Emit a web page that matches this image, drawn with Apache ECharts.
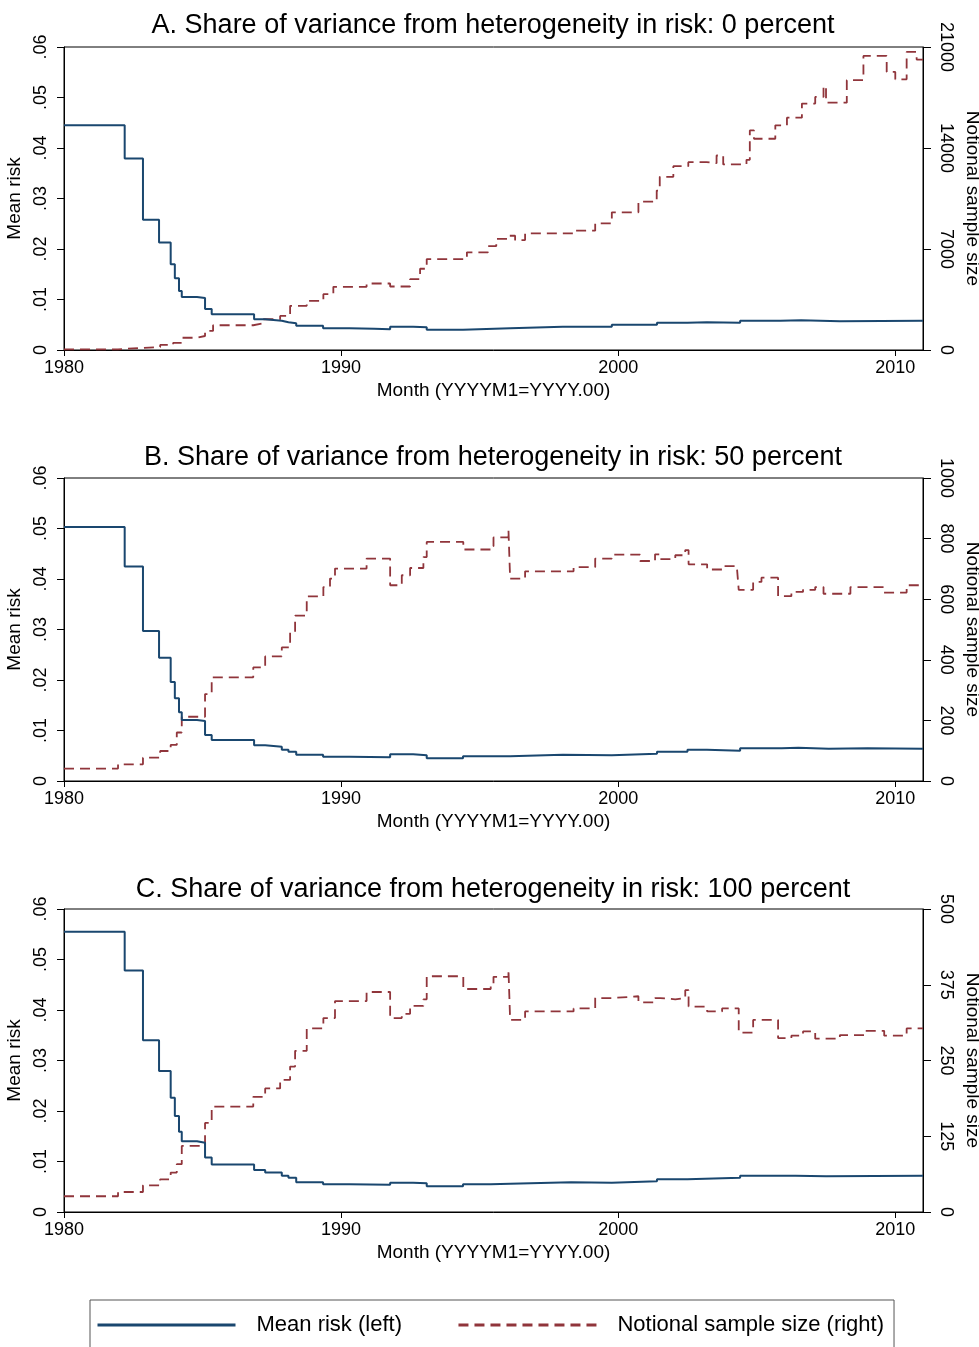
<!DOCTYPE html>
<html>
<head>
<meta charset="utf-8">
<script src="https://cdn.jsdelivr.net/npm/echarts@6/dist/echarts.min.js"></script>
<style>
html,body{margin:0;padding:0;background:#fff;overflow:hidden;}
#chart{width:979px;height:1347px;}
</style>
</head>
<body>
<div id="chart"></div>
<script>
// ---------- data ----------
const panelTitles = [
  'A. Share of variance from heterogeneity in risk: 0 percent',
  'B. Share of variance from heterogeneity in risk: 50 percent',
  'C. Share of variance from heterogeneity in risk: 100 percent'
];
const xTickValues = [1980, 1990, 2000, 2010];
const leftTickLabels = ['0', '.01', '.02', '.03', '.04', '.05', '.06'];
const rightAxisMax = [21000, 1000, 500];
const rightAxisStep = [7000, 200, 125];
const seriesNames = ['Mean risk (left)', 'Notional sample size (right)'];

const aRisk = [[1980,0.0445],[1982.19,0.0379],[1982.85,0.0258],[1983.43,0.0213],[1983.85,0.0170],[1984.0,0.0142],[1984.15,0.0117],[1984.25,0.0105],[1984.8,0.0103],[1985.09,0.0081],[1985.33,0.0071],[1986.86,0.0061],[1987.26,0.0058],[1987.86,0.0055],[1988.1,0.0053],[1988.38,0.0048],[1989.35,0.0043],[1990.3,0.0042],[1991.2,0.0041],[1991.77,0.0046],[1992.6,0.0045],[1993.09,0.0040],[1994.4,0.0043],[1996.1,0.0046],[1998.0,0.0046],[1999.77,0.0050],[2001.4,0.0054],[2002.5,0.0055],[2003.2,0.0054],[2004.4,0.0058],[2005.85,0.0059],[2006.6,0.0057],[2008.0,0.0058],[2011,0.0057]];
const aSize = [[1980,50],[1981.95,150],[1982.85,200],[1983.47,350],[1983.94,500],[1984.25,850],[1984.79,970],[1985.09,1320],[1985.38,1715],[1986.83,1850],[1987.2,2130],[1987.8,2360],[1988.16,3060],[1988.76,3400],[1989.36,3870],[1989.72,4380],[1990.92,4610],[1991.77,4400],[1992.49,4910],[1992.85,5630],[1993.09,6300],[1994.54,6770],[1995.3,7200],[1995.6,7700],[1996.04,7920],[1996.28,7620],[1996.64,8080],[1998.39,8270],[1999.17,8780],[1999.77,9540],[2000.73,10280],[2001.39,11050],[2001.5,12000],[2001.99,12740],[2002.53,13020],[2003.19,12950],[2003.55,13480],[2003.79,12860],[2004.63,13180],[2004.75,15220],[2004.9,14640],[2005.67,15570],[2006.09,16100],[2006.63,17080],[2007.11,17540],[2007.41,18280],[2007.5,17140],[2008.25,18700],[2008.85,20380],[2009.69,19270],[2010.0,18760],[2010.41,20660],[2010.77,20130],[2011,20130]];

const bRisk = [[1980,0.0503],[1982.19,0.0425],[1982.85,0.0297],[1983.43,0.0244],[1983.85,0.0196],[1984.0,0.0164],[1984.15,0.0136],[1984.25,0.0121],[1984.8,0.0119],[1985.09,0.0091],[1985.33,0.0081],[1986.86,0.0071],[1987.26,0.0068],[1987.86,0.0062],[1988.1,0.0058],[1988.38,0.0052],[1989.35,0.0048],[1990.3,0.0047],[1991.77,0.0053],[1992.6,0.0051],[1993.09,0.0045],[1994.4,0.0049],[1996.1,0.0052],[1998.0,0.0051],[1999.77,0.0054],[2001.4,0.0058],[2002.5,0.0062],[2003.2,0.0060],[2004.4,0.0065],[2005.9,0.0066],[2006.5,0.0064],[2007.6,0.0065],[2009.0,0.0064],[2011,0.0064]];
const bSize = [[1980,41],[1981.95,55],[1982.85,77],[1983.47,99],[1983.85,119],[1984.07,160],[1984.25,212],[1985.09,287],[1985.33,342],[1986.83,375],[1987.26,411],[1987.86,441],[1988.16,491],[1988.34,546],[1988.76,609],[1989.36,640],[1989.6,668],[1989.78,701],[1990.92,734],[1991.77,646],[1992.19,679],[1992.49,703],[1992.97,739],[1993.09,789],[1994.41,764],[1995.4,775],[1995.5,804],[1996.04,828],[1996.1,668],[1996.64,692],[1998.39,706],[1999.17,734],[1999.77,747],[2000.79,726],[2001.33,748],[2001.52,732],[2002.06,745],[2002.42,762],[2002.54,715],[2003.21,698],[2003.75,709],[2004.29,698],[2004.35,631],[2004.87,657],[2005.17,671],[2005.77,610],[2006.25,624],[2006.67,631],[2007.11,640],[2007.41,618],[2008.38,640],[2009.56,622],[2010.41,646],[2011,646]];

const cRisk = [[1980,0.0555],[1982.19,0.0478],[1982.85,0.0340],[1983.43,0.0279],[1983.85,0.0226],[1984.0,0.0190],[1984.15,0.0159],[1984.25,0.0140],[1984.8,0.0137],[1985.09,0.0108],[1985.33,0.0094],[1986.86,0.0083],[1987.26,0.0078],[1987.86,0.0072],[1988.1,0.0068],[1988.38,0.0059],[1989.35,0.0055],[1990.3,0.0054],[1991.77,0.0058],[1992.6,0.0057],[1993.09,0.0051],[1994.4,0.0055],[1995.4,0.0056],[1996.1,0.0059],[1998.3,0.0058],[1999.77,0.0061],[2001.4,0.0065],[2002.5,0.0068],[2004.4,0.0072],[2006.4,0.0071],[2007.5,0.0072],[2011,0.0072]];
const cSize = [[1980,26],[1981.95,33],[1982.85,44],[1983.47,54],[1983.85,65],[1984.07,79],[1984.25,109],[1985.09,147],[1985.33,174],[1986.83,190],[1987.26,204],[1987.8,218],[1988.16,240],[1988.34,266],[1988.76,303],[1989.36,320],[1989.78,348],[1990.92,363],[1991.77,320],[1992.19,327],[1992.49,340],[1992.97,351],[1993.09,389],[1994.41,368],[1995.4,375],[1995.5,388],[1996.04,400],[1996.1,317],[1996.64,331],[1998.39,336],[1999.17,353],[1999.77,356],[2000.73,346],[2001.33,353],[2001.52,351],[2002.06,353],[2002.42,366],[2002.54,339],[2003.21,331],[2003.75,336],[2004.35,296],[2004.87,317],[2005.77,287],[2006.25,291],[2006.67,298],[2007.11,286],[2008.0,292],[2008.9,299],[2009.6,291],[2010.41,303],[2011,303]];

const riskData = [aRisk, bRisk, cRisk];
const sizeData = [aSize, bSize, cSize];

// ---------- chart ----------
const FONT = "'Liberation Sans', Arial, sans-serif";
const BLUE = '#1a476f';
const RED = '#90353b';
const gridTops = [47, 478, 909];
const gridH = 303;
const titleTops = [11, 443, 875];

const chart = echarts.init(document.getElementById('chart'), null, {renderer: 'canvas'});

const grids = [], xAxes = [], yAxes = [], series = [], titles = [];
for (let i = 0; i < 3; i++) {
  grids.push({left: 64, right: 56, top: gridTops[i], height: gridH, show: true,
    borderColor: '#000', borderWidth: 1, backgroundColor: '#fff',
    containLabel: false, outerBoundsMode: 'none'});
  titles.push({text: panelTitles[i], left: 493, textAlign: 'center', top: titleTops[i], padding: 0,
    textStyle: {fontFamily: FONT, fontSize: 27, fontWeight: 'normal', color: '#000', lineHeight: 29}});
  xAxes.push({type: 'value', gridIndex: i, min: 1980, max: 2011,
    name: 'Month (YYYYM1=YYYY.00)', nameLocation: 'middle', nameGap: 31,
    nameTextStyle: {fontFamily: FONT, fontSize: 19, color: '#000'},
    axisLine: {show: true, lineStyle: {color: '#000', width: 1}},
    axisTick: {show: true, length: 6, customValues: xTickValues, lineStyle: {color: '#000'}},
    axisLabel: {customValues: xTickValues, margin: 9, fontFamily: FONT, fontSize: 18, color: '#000',
      formatter: v => String(v)},
    splitLine: {show: false}});
  yAxes.push({type: 'value', gridIndex: i, position: 'left', min: 0, max: 0.06, interval: 0.01,
    name: 'Mean risk', nameLocation: 'middle', nameGap: 38,
    nameTextStyle: {fontFamily: FONT, fontSize: 19, color: '#000'},
    axisLine: {show: true, lineStyle: {color: '#000', width: 1}},
    axisTick: {show: true, length: 7, lineStyle: {color: '#000'}},
    axisLabel: {rotate: 90, margin: 14, fontFamily: FONT, fontSize: 18, color: '#000',
      formatter: v => leftTickLabels[Math.round(v * 100)]},
    splitLine: {show: false}});
  yAxes.push({type: 'value', gridIndex: i, position: 'right', min: 0, max: rightAxisMax[i], interval: rightAxisStep[i],
    name: 'Notional sample size', nameLocation: 'middle', nameGap: 34, nameRotate: -90,
    nameTextStyle: {fontFamily: FONT, fontSize: 19, color: '#000'},
    axisLine: {show: true, lineStyle: {color: '#000', width: 1}},
    axisTick: {show: true, length: 8, lineStyle: {color: '#000'}},
    axisLabel: {rotate: -90, margin: 14, fontFamily: FONT, fontSize: 18, color: '#000',
      formatter: v => String(v)},
    splitLine: {show: false}});
  series.push({name: seriesNames[0], type: 'line', step: 'end', xAxisIndex: i, yAxisIndex: 2 * i,
    data: riskData[i], symbol: 'none', animation: false, z: 3,
    lineStyle: {color: BLUE, width: 2}, itemStyle: {color: BLUE}});
  series.push({name: seriesNames[1], type: 'line', step: 'end', xAxisIndex: i, yAxisIndex: 2 * i + 1,
    data: sizeData[i], symbol: 'none', animation: false, z: 2,
    lineStyle: {color: RED, width: 1.8, type: [10, 6]}, itemStyle: {color: RED}});
}

chart.setOption({
  backgroundColor: '#fff',
  animation: false,
  title: titles,
  grid: grids,
  xAxis: xAxes,
  yAxis: yAxes,
  series: series,
  legend: {
    data: seriesNames, left: 90, top: 1300, orient: 'horizontal',
    padding: [14, 10, 20, 6], itemGap: 55, itemWidth: 138, itemHeight: 22,
    borderColor: '#555', borderWidth: 1, selectedMode: false,
    itemStyle: {color: 'transparent', borderWidth: 0, opacity: 0},
    lineStyle: {width: 3},
    textStyle: {fontFamily: FONT, fontSize: 22, color: '#000', padding: [0, 0, 0, 16]}
  }
});
</script>
</body>
</html>
